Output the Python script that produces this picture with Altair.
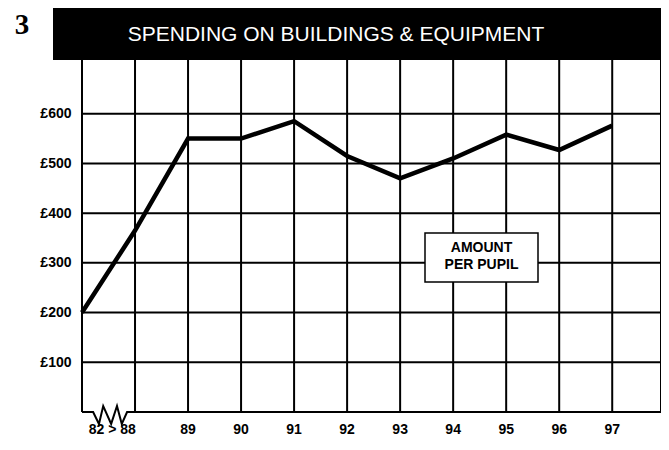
import altair as alt
import pandas as pd

# ---- data ----
years = ["82", "88", "89", "90", "91", "92", "93", "94", "95", "96", "97"]
amount = [200, 365, 550, 550, 585, 515, 470, 510, 558, 527, 576]
x_labels = ["82 > 88", "89", "90", "91", "92", "93", "94", "95", "96", "97"]
x_label_pos = [0.57, 2, 3, 4, 5, 6, 7, 8, 9, 10]
y_ticks = [100, 200, 300, 400, 500, 600]
v_grid = [1, 2, 3, 4, 5, 6, 7, 8, 9, 10]
# axis-break zigzag on the x axis (position, value)
zz_x = [0, 0.21, 0.32, 0.40, 0.55, 0.66, 0.75, 0.85, 10.92]
zz_y = [0, 0, -24, 12, -24, 12, -24, 0, 0]

title = "SPENDING ON BUILDINGS & EQUIPMENT"
panel_no = "3"
note = ["AMOUNT", "PER PUPIL"]

W, H = 579, 352
FONT = "Liberation Sans"

line_df = pd.DataFrame({"pos": list(range(len(years))), "year": years, "amount": amount})
xlab_df = pd.DataFrame({"pos": x_label_pos, "label": x_labels})
hgrid_df = pd.DataFrame({"v": y_ticks})
vgrid_df = pd.DataFrame({"pos": v_grid})
zz_df = pd.DataFrame({"pos": zz_x, "v": zz_y, "o": list(range(len(zz_x)))})

xs = alt.Scale(domain=[0, 10.92], nice=False, zero=False)
ys = alt.Scale(domain=[0, 708], nice=False)

hgrid = alt.Chart(hgrid_df).mark_rule(color="black", strokeWidth=2).encode(
    y=alt.Y("v:Q", scale=ys, axis=alt.Axis(
        values=y_ticks, labelExpr='"£" + datum.value', domain=False, ticks=False,
        grid=False, labelFont=FONT, labelFontSize=14, labelFontWeight="bold",
        labelColor="black", labelPadding=11, title=None)),
    x=alt.value(0), x2=alt.value(W),
)

vgrid = alt.Chart(vgrid_df).mark_rule(color="black", strokeWidth=2).encode(
    x=alt.X("pos:Q", scale=xs, axis=None),
    y=alt.value(0), y2=alt.value(H),
)

frame_df = pd.DataFrame({"side": ["left", "right"]})
left_border = alt.Chart(frame_df).transform_filter("datum.side == 'left'").mark_rule(
    color="black", strokeWidth=2).encode(x=alt.value(0), y=alt.value(0), y2=alt.value(H))
right_border = alt.Chart(frame_df).transform_filter("datum.side == 'right'").mark_rule(
    color="black", strokeWidth=2).encode(x=alt.value(W), y=alt.value(0), y2=alt.value(H))

zigzag = alt.Chart(zz_df).mark_line(color="black", strokeWidth=2).encode(
    x=alt.X("pos:Q", scale=xs, axis=None),
    y=alt.Y("v:Q", scale=ys),
    order="o:Q",
)

line = alt.Chart(line_df).mark_line(color="black", strokeWidth=4.5, strokeJoin="miter").encode(
    x=alt.X("pos:Q", scale=xs, axis=None),
    y=alt.Y("amount:Q", scale=ys),
)

xlabels = alt.Chart(xlab_df).mark_text(
    font=FONT, fontSize=14, fontWeight="bold", color="black", baseline="middle", align="center"
).encode(
    x=alt.X("pos:Q", scale=xs, axis=None),
    y=alt.value(H + 18),
    text="label:N",
)

title_box = alt.Chart(pd.DataFrame({"t": [title]})).mark_rect(color="black").encode(
    x=alt.value(-29), x2=alt.value(W + 1), y=alt.value(-58), y2=alt.value(0),
)
title_txt = alt.Chart(pd.DataFrame({"t": [title]})).mark_text(
    font=FONT, fontSize=21, color="white", align="center", baseline="middle"
).encode(x=alt.value(254), y=alt.value(-25), text="t:N")

num_txt = alt.Chart(pd.DataFrame({"t": [panel_no]})).mark_text(
    font="Liberation Serif", fontWeight="bold", fontSize=29, color="black",
    align="center", baseline="middle"
).encode(x=alt.value(-60), y=alt.value(-35), text="t:N")

note_box = alt.Chart(pd.DataFrame({"t": [" ".join(note)]})).mark_rect(
    fill="white", stroke="black", strokeWidth=1.5
).encode(x=alt.value(343), x2=alt.value(456), y=alt.value(173), y2=alt.value(222))

note_df = pd.DataFrame({"t": note, "yy": [188, 205]})
note_txt = alt.Chart(note_df).mark_text(
    font=FONT, fontSize=14, fontWeight="bold", color="black", align="center", baseline="middle"
).encode(x=alt.value(399.5), y=alt.Y("yy:Q", scale=None), text="t:N")

chart = alt.layer(
    hgrid, vgrid, left_border, right_border, zigzag, line, xlabels,
    title_box, title_txt, num_txt, note_box, note_txt,
).properties(
    width=W, height=H,
    autosize=alt.AutoSizeParams(type="none"),
    padding={"left": 74, "top": 52, "right": 0, "bottom": 26},
    background="white",
).configure_view(stroke=None)

chart.save("out.html", embed_options={"renderer": "svg", "actions": False})
